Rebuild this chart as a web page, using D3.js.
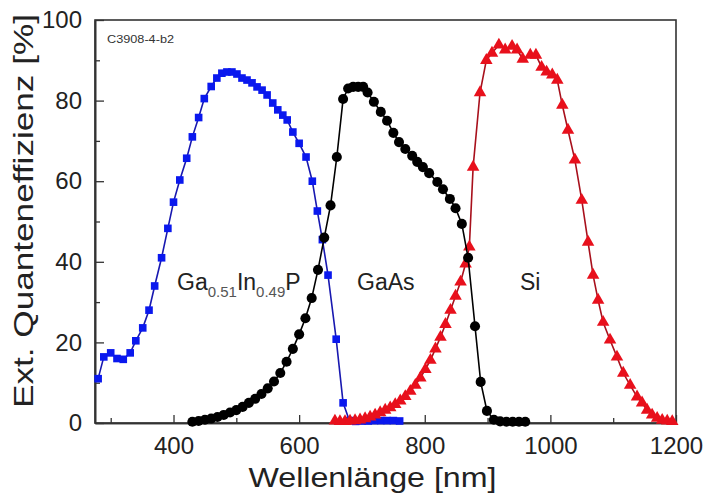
<!DOCTYPE html>
<html>
<head>
<meta charset="utf-8">
<script src="https://cdn.jsdelivr.net/npm/d3@7"></script>
<style>
    body { margin: 0; background: #fff; }
    svg { font-family: "Liberation Sans", Arial, sans-serif; }
</style>
</head>
<body>
<div id="chart"></div>
<script>
// GaInP top cell (blue squares)
const gainpWl = [280, 289, 300, 310, 320, 331, 340, 351, 361, 370, 381, 391, 400, 410, 421, 430, 440, 449, 460, 469,
    477, 485, 493, 501, 509, 517, 525, 533, 541, 549, 558, 566, 574, 581, 590, 600, 611, 621, 629, 637,
    646, 659, 670, 680, 690, 700, 710, 720, 730, 740, 750, 760];
const gainpQe = [11, 16.4, 17.4, 16, 15.8, 17.4, 20.4, 23.6, 28, 34, 41, 48.3, 54.8, 60.3, 65.7, 71, 75.8, 80.5, 83.5, 85.6,
    86.8, 87.1, 87.1, 86.6, 85.6, 85.1, 84.4, 83.4, 82.6, 81.4, 79.4, 77.7, 76.4, 75.2, 72.2, 69.4, 66, 60, 52.6, 45.5,
    36.7, 20.8, 5, 0.6, 0.4, 0.5, 0.5, 0.6, 0.6, 0.6, 0.6, 0.5];

// GaAs middle cell (black circles)
const gaasWl = [430, 440, 450, 460, 470, 480, 490, 500, 510, 520, 530, 540, 550, 560, 570, 580, 590, 600, 610, 620,
    630, 640, 650, 660, 670, 678, 686, 694, 702, 709, 719, 730, 740, 750, 759, 769, 780, 788, 797, 807,
    820, 829, 840, 849, 859, 869, 880, 889, 899, 910, 920, 930, 940, 950, 960];
const gaasQe = [0.3, 0.5, 0.8, 1.1, 1.5, 2.0, 2.6, 3.2, 4.0, 5.0, 6.0, 7.2, 8.6, 10.3, 12.4, 15.2, 18.4, 22, 26, 31,
    38, 46, 54, 66, 80.4, 83, 83.4, 83.4, 83.4, 82, 79.7, 77.2, 75, 72, 69.7, 68, 66.3, 64.8, 63.5, 62,
    59.8, 58, 55.6, 53.3, 49.4, 41, 24, 10.2, 3, 0.8, 0.4, 0.3, 0.3, 0.3, 0.3];

// Si bottom cell (red triangles)
const siWl = [657, 665, 673, 681, 689, 697, 705, 713, 721, 729, 737, 745, 753, 761, 769, 777, 785, 793, 801, 809,
    817, 825, 833, 841, 849, 857, 865, 871, 877, 888, 898, 907, 918, 928, 939, 947, 956, 968, 977, 986,
    994, 1003, 1011, 1019, 1028, 1039, 1050, 1060, 1068, 1076, 1084, 1095, 1106, 1116, 1127, 1138, 1146, 1154, 1162, 1170,
    1178, 1186, 1194];
const siQe = [0.5, 0.4, 0.4, 0.5, 0.6, 0.8, 1.1, 1.5, 2.0, 2.6, 3.2, 3.8, 4.6, 5.5, 6.6, 7.9, 9.4, 11.2, 13.3, 15.6,
    18.4, 21.3, 24.5, 28, 31.5, 35, 39.5, 43.7, 63.5, 82, 90, 91.8, 93.8, 92.6, 93.5, 92.6, 90.3, 91.3, 91.3, 88.3,
    87.1, 86.4, 85.1, 78.9, 72.7, 65.3, 55.3, 44.9, 36.7, 30.5, 25, 20.6, 16.4, 12.4, 9.4, 6.5, 5, 3.2, 2, 1.2,
    0.7, 0.5, 0.4];

const xMajorTicks = [400, 600, 800, 1000, 1200];
const xMinorTicks = [300, 500, 700, 900, 1100];
const yMajorTicks = [0, 20, 40, 60, 80, 100];
const yMinorTicks = [10, 30, 50, 70, 90];

const width = 710, height = 499;
const margin = {top: 20, right: 34, bottom: 76, left: 95};

const svg = d3.select("#chart").append("svg")
    .attr("width", width)
    .attr("height", height);

const x = d3.scaleLinear().domain([275, 1200]).range([margin.left, width - margin.right]);
const y = d3.scaleLinear().domain([0, 100]).range([height - margin.bottom, margin.top]);

const axisColor = "#333";

// Frame
svg.append("rect")
    .attr("x", x.range()[0])
    .attr("y", y.range()[1])
    .attr("width", x.range()[1] - x.range()[0])
    .attr("height", y.range()[0] - y.range()[1])
    .attr("fill", "none")
    .attr("stroke", axisColor)
    .attr("stroke-width", 1.6);

// Axes, ticks pointing inwards
svg.append("g")
    .attr("transform", "translate(0," + y(0) + ")")
    .call(d3.axisBottom(x).tickValues(xMajorTicks).tickFormat(d3.format("d"))
        .tickSize(-8).tickPadding(14).tickSizeOuter(0));
svg.append("g")
    .attr("transform", "translate(0," + y(0) + ")")
    .call(d3.axisBottom(x).tickValues(xMinorTicks).tickSize(-5).tickFormat("").tickSizeOuter(0));
svg.append("g")
    .attr("transform", "translate(" + x(275) + ",0)")
    .call(d3.axisLeft(y).tickValues(yMajorTicks).tickFormat(d3.format("d"))
        .tickSize(-9).tickPadding(13).tickSizeOuter(0));
svg.append("g")
    .attr("transform", "translate(" + x(275) + ",0)")
    .call(d3.axisLeft(y).tickValues(yMinorTicks).tickSize(-5).tickFormat("").tickSizeOuter(0));

svg.selectAll(".domain").attr("stroke", axisColor).attr("stroke-width", 1.6);
svg.selectAll(".tick line").attr("stroke", axisColor).attr("stroke-width", 1.3);
svg.selectAll(".tick text")
    .attr("font-size", 24)
    .attr("font-family", "Liberation Sans, Arial, sans-serif")
    .attr("fill", "#222");

// Axis titles
svg.append("text")
    .attr("x", (x.range()[0] + x.range()[1]) / 2 - 13)
    .attr("y", 487)
    .attr("text-anchor", "middle")
    .attr("font-size", 28)
    .attr("fill", "#222")
    .attr("textLength", 248)
    .attr("lengthAdjust", "spacingAndGlyphs")
    .text("Wellenlänge [nm]");
svg.append("text")
    .attr("transform", "translate(33,211) rotate(-90)")
    .attr("text-anchor", "middle")
    .attr("font-size", 28)
    .attr("fill", "#222")
    .attr("textLength", 394)
    .attr("lengthAdjust", "spacingAndGlyphs")
    .text("Ext. Quanteneffizienz [%]");

// Sample label
svg.append("text")
    .attr("x", 107)
    .attr("y", 43)
    .attr("font-size", 10)
    .attr("fill", "#333")
    .attr("textLength", 67)
    .attr("lengthAdjust", "spacingAndGlyphs")
    .text("C3908-4-b2");

// Series
const series = [
    {wl: gainpWl, qe: gainpQe, line: "#1818b0", fill: "#0a18ee", symbol: d3.symbolSquare, size: 58},
    {wl: siWl, qe: siQe, line: "#a8101c", fill: "#e8101c", symbol: d3.symbolTriangle, size: 68},
    {wl: gaasWl, qe: gaasQe, line: "#000", fill: "#000", symbol: d3.symbolCircle, size: 80}
];

const line = d3.line().x(d => x(d[0])).y(d => y(d[1]));

for (const s of series) {
    const pts = d3.zip(s.wl, s.qe);
    const g = svg.append("g");
    g.append("path")
        .attr("d", line(pts))
        .attr("fill", "none")
        .attr("stroke", s.line)
        .attr("stroke-width", 1.6);
    g.selectAll("path.marker")
        .data(pts)
        .join("path")
        .classed("marker", true)
        .attr("transform", d => "translate(" + x(d[0]) + "," + y(d[1]) + ")")
        .attr("d", d3.symbol().type(s.symbol).size(s.size))
        .attr("fill", s.fill);
}

// Cell labels
const labelY = 290;
const gainpLabel = svg.append("text")
    .attr("x", 177)
    .attr("y", labelY)
    .attr("font-size", 23)
    .attr("fill", "#222");
gainpLabel.append("tspan").text("Ga");
gainpLabel.append("tspan").attr("font-size", 15).attr("dy", 7).attr("fill", "#555").text("0.51");
gainpLabel.append("tspan").attr("dy", -7).text("In");
gainpLabel.append("tspan").attr("font-size", 15).attr("dy", 7).attr("fill", "#555").text("0.49");
gainpLabel.append("tspan").attr("dy", -7).text("P");

svg.append("text")
    .attr("x", 357)
    .attr("y", labelY)
    .attr("font-size", 23)
    .attr("fill", "#222")
    .text("GaAs");
svg.append("text")
    .attr("x", 520)
    .attr("y", labelY)
    .attr("font-size", 23)
    .attr("fill", "#222")
    .text("Si");
</script>
</body>
</html>
